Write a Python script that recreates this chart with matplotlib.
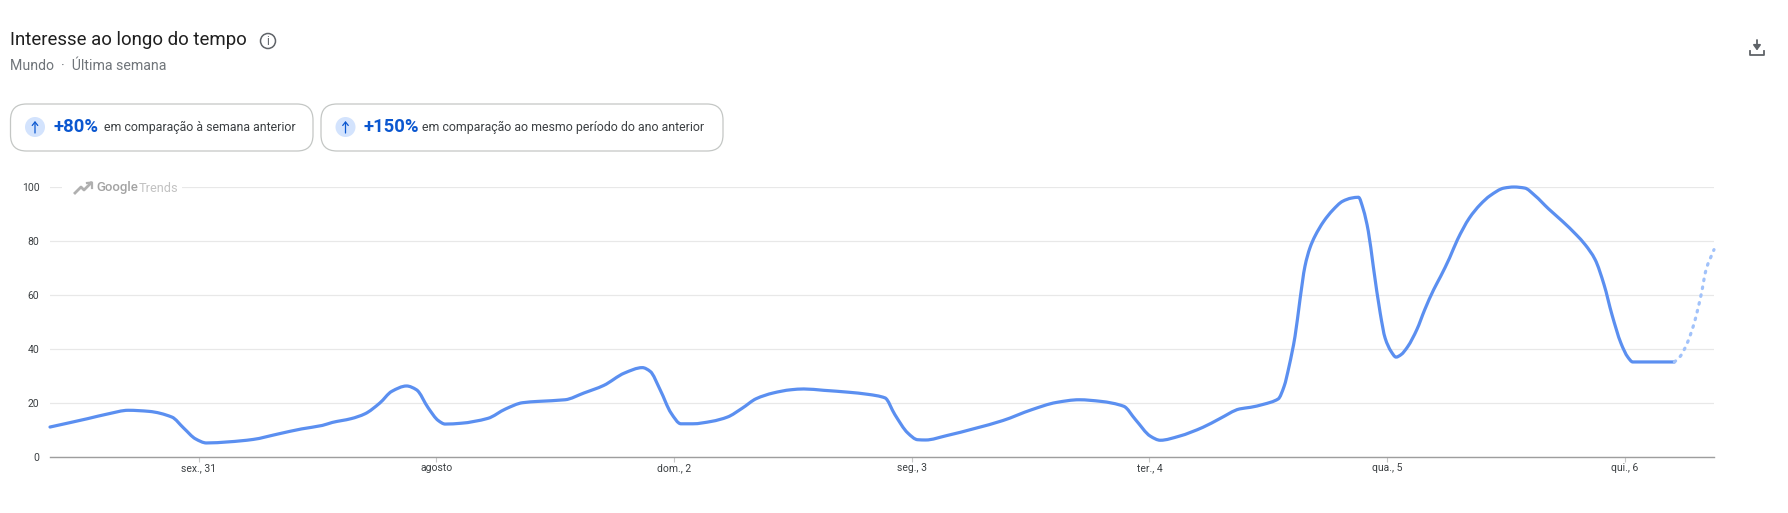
#------------------------------------------------------------------------------
# Google Trends style panel: interest over the last week.
#------------------------------------------------------------------------------
import matplotlib
matplotlib.use('Agg')
import matplotlib.pyplot as plt
from matplotlib.patches import Circle, FancyBboxPatch, PathPatch
from matplotlib.path import Path

plt.rcParams['font.family'] = ['Roboto', 'DejaVu Sans']

# Values. Hours are counted from the left edge of the axis.
solid_hours = [0, 3.8, 5.9, 7.9, 10, 12.3, 13.5, 14.7, 15.8, 18, 20.5, 23, 25.4, 27.5, 28.5,
               30.4, 31.8, 33.3, 34.5, 36, 37, 38.2, 39.2, 39.9, 41.5, 44.2, 46, 47.7, 49.3,
               52, 53.9, 55.9, 58, 59.8, 60.6, 61.6, 62.7, 63.7, 64.9, 66.8, 68.4, 69.9, 71.3,
               73, 74.8, 76.1, 78.1, 80.6, 82.6, 84.3, 85.3, 86.6, 87.6, 88.4, 90.5, 93.4,
               96.2, 99.1, 101.6, 103.9, 106.1, 108.4, 109.6, 111.1, 112.1, 114, 116.4, 118.1,
               120.1, 121.2, 122.5, 124, 124.6, 125.1, 125.7, 126.2, 126.7, 127.2, 127.7,
               128.6, 129.5, 130.5, 131.4, 132.1, 132.6, 133.1, 133.6, 134.3, 134.8, 135.4,
               135.9, 136.4, 137.1, 138, 138.8, 139.7, 140.4, 141.3, 142.1, 143.3, 144.4,
               145.4, 146.8, 147.8, 148.9, 149.9, 151.3, 152.7, 154.1, 155, 156, 156.9, 157.7,
               158.6, 159.3, 159.8, 164]
solid_interest = [11.1, 14.2, 16, 17.3, 16.9, 14.8, 10.7, 6.7, 5.2, 5.6, 6.5, 8.5, 10.4, 11.7, 12.8,
                  14.2, 16, 20, 24.3, 26.3, 24.9, 18.1, 13.5, 12.2, 12.5, 14.3, 17.8, 20.1, 20.6,
                  21.2, 23.7, 26.5, 31.1, 33.1, 31.7, 24.9, 16.3, 12.3, 12.3, 13.2, 14.8, 18.1, 21.6,
                  23.7, 24.9, 25.2, 24.7, 24, 23.2, 21.9, 15.7, 8.9, 6.4, 6.3, 7.9, 10.6,
                  13.5, 17.5, 20.2, 21.2, 20.6, 18.8, 13.8, 7.7, 6.2, 7.7, 11, 14.2,
                  17.8, 18.4, 19.5, 21.5, 26.2, 33.6, 44.7, 58.3, 70.6, 77.4, 81.7,
                  87.3, 91.4, 94.7, 95.9, 96.2, 91.6, 83.6, 70.6, 53.3, 44, 39.1,
                  37, 37.9, 41, 47.2, 54.6, 62, 66.9, 73.7, 80.5, 88.5, 93.5,
                  96.8, 99.6, 100, 99.6, 96.9, 91.9, 87.3, 82.3, 78.6, 73.1, 63.8, 52.7,
                  42.2, 37, 35.2, 35.2]
partial_hours = [164, 164.6, 165.3, 166, 166.7, 167.2, 168]
partial_interest = [35.2, 37.3, 42.2, 49.6, 60.1, 69.4, 76.8]

day_ticks = [15, 39, 63, 87, 111, 135, 159]
day_labels = ['sex., 31', 'agosto', 'dom., 2', 'seg., 3', 'ter., 4', 'qua., 5', 'qui., 6']
y_ticks = [0, 20, 40, 60, 80, 100]

W, H = 1788, 513

#------------------------------------------------------------------------------
def curve_through(xs, ys):
    """Bezier path through the read points, tangents flat at local extremes."""
    steps = [xs[i + 1] - xs[i] for i in range(len(xs) - 1)]
    slopes = [(ys[i + 1] - ys[i]) / steps[i] for i in range(len(steps))]
    tangents = [slopes[0]]
    for a, b in zip(slopes[:-1], slopes[1:]):
        tangents.append(0.0 if a * b <= 0 else 2 * a * b / (a + b))
    tangents.append(slopes[-1])

    verts = [(xs[0], ys[0])]
    codes = [Path.MOVETO]
    for i, h in enumerate(steps):
        verts.append((xs[i] + h / 3, ys[i] + tangents[i] * h / 3))
        verts.append((xs[i + 1] - h / 3, ys[i + 1] - tangents[i + 1] * h / 3))
        verts.append((xs[i + 1], ys[i + 1]))
        codes += [Path.CURVE4] * 3
    return Path(verts, codes)

#------------------------------------------------------------------------------
def draw_card(ui, x0, x1, circle_x, pct_x, text_x, pct, text):
    ui.add_patch(FancyBboxPatch((x0, 104), x1 - x0, 47, boxstyle='round,pad=0,rounding_size=16',
                                fc='white', ec='#c4c7c5', lw=0.9))
    ui.add_patch(Circle((circle_x, 127), 10, fc='#d3e3fd', ec='none'))
    ui.annotate('', xy=(circle_x, 121), xytext=(circle_x, 133),
                arrowprops=dict(arrowstyle='->,head_width=0.2,head_length=0.25',
                                color='#0b57d0', lw=0.9, shrinkA=0, shrinkB=0))
    ui.text(pct_x, 127, pct, color='#0b57d0', fontsize=13.2, fontweight='bold', va='center')
    ui.text(text_x, 127.5, text, color='#3c4043', fontsize=8.95, va='center')

#------------------------------------------------------------------------------
def draw_header(ui):
    ui.text(10, 40, 'Interesse ao longo do tempo', color='#1f1f1f', fontsize=13.4, va='center')
    ui.add_patch(Circle((268, 41), 7.5, fc='white', ec='#5f6368', lw=1.1))
    ui.text(268, 41.5, 'i', color='#5f6368', fontsize=8.5, ha='center', va='center')
    ui.text(10, 66, 'Mundo  ·  Última semana', color='#70757a', fontsize=10.2, va='center')
    draw_card(ui, 10.5, 313, 35, 53, 104, '+80%', 'em comparação à semana anterior')
    draw_card(ui, 321, 723, 345.5, 364, 422, '+150%', 'em comparação ao mesmo período do ano anterior')

    # Download icon
    ui.annotate('', xy=(1757, 50.5), xytext=(1757, 40),
                arrowprops=dict(arrowstyle='-|>,head_width=0.22,head_length=0.3',
                                color='#5f6368', lw=1.3, shrinkA=0, shrinkB=0))
    ui.plot([1750, 1750, 1764, 1764], [51, 55, 55, 51], color='#5f6368', lw=1.3)

    # Google Trends logo sits over the top grid line
    ui.add_patch(plt.Rectangle((62, 178), 120, 18, fc='white', ec='none', zorder=3))
    ui.plot([75, 81, 84, 91], [193, 187, 190, 183], color='#b0b0b0', lw=2, zorder=4)
    ui.plot([87, 92, 92], [183, 182.5, 188], color='#b0b0b0', lw=1.6, zorder=4)
    ui.text(96, 188, 'Google', color='#a3a3a3', fontsize=9.5, fontweight='medium', va='center', zorder=4)
    ui.text(139, 188, 'Trends', color='#c2c2c2', fontsize=9.2, va='center', zorder=4)

#------------------------------------------------------------------------------
def main():
    fig = plt.figure(figsize=(W / 100, H / 100), dpi=100)

    ax = fig.add_axes([50 / W, 1 - 457 / H, (1714 - 50) / W, 270 / H])
    ax.add_patch(PathPatch(curve_through(solid_hours, solid_interest), fill=False, ec='#5b8ff0',
                           lw=2.3, capstyle='round', joinstyle='round', zorder=3, clip_on=False))
    ax.add_patch(PathPatch(curve_through(partial_hours, partial_interest), fill=False, ec='#a1c2fa',
                           lw=2.3, linestyle=(0, (0.5, 2.0)), capstyle='round', zorder=3, clip_on=False))
    ax.set_xlim(0, 168)
    ax.set_ylim(0, 100)
    ax.set_xticks(day_ticks, day_labels)
    ax.set_yticks(y_ticks)
    ax.yaxis.grid(True, color='#e8e8e8', lw=0.9)
    ax.set_axisbelow(True)
    ax.tick_params(axis='x', length=3.6, width=0.8, color='#c8c8c8', labelsize=7.5,
                   labelcolor='#3c4043', pad=1)
    ax.tick_params(axis='y', length=0, labelsize=7.5, labelcolor='#3c4043', pad=7.6)
    for side in ['top', 'right', 'left']:
        ax.spines[side].set_visible(False)
    ax.spines['bottom'].set_color('#9e9e9e')
    ax.spines['bottom'].set_linewidth(1.0)

    # Overlay in pixel coordinates for the page furniture around the chart.
    ui = fig.add_axes([0, 0, 1, 1], facecolor='none')
    ui.set_xlim(0, W)
    ui.set_ylim(H, 0)
    ui.axis('off')
    draw_header(ui)

    fig.savefig('out.png', dpi=100, facecolor='white')

#------------------------------------------------------------------------------
if __name__ == '__main__':
    main()
